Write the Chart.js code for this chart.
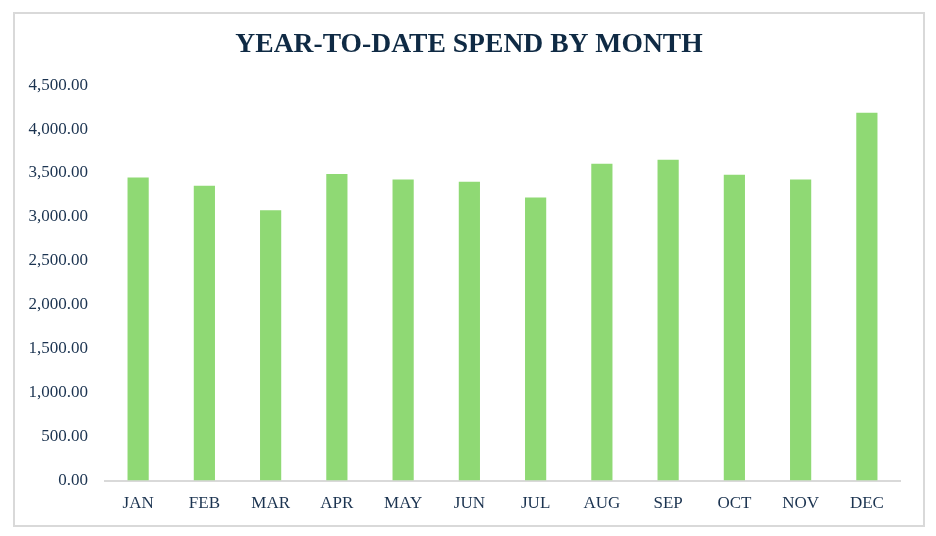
<!DOCTYPE html>
<html lang="en">
<head>
  <meta charset="UTF-8">
  <title>Year-to-date spend by month</title>
  <script src="https://cdn.jsdelivr.net/npm/chart.js"></script>
  <style>
    body { margin: 0; background: #fff; }
    #frame {
      position: absolute; left: 13px; top: 12px;
      width: 908px; height: 511px;
      border: 2px solid #d9d9d9; box-sizing: content-box;
    }
    #frame canvas { display: block; }
  </style>
</head>
<body>
  <div id="frame">
    <canvas id="spendChart" width="908" height="511"></canvas>
  </div>

  <script>
    // data
    const months = ['JAN', 'FEB', 'MAR', 'APR', 'MAY', 'JUN', 'JUL', 'AUG', 'SEP', 'OCT', 'NOV', 'DEC'];
    const spend = [3450, 3355, 3075, 3490, 3425, 3400, 3220, 3605, 3650, 3480, 3425, 4185];
    const yTicks = [0, 500, 1000, 1500, 2000, 2500, 3000, 3500, 4000, 4500];

    const textColor = '#1b3350';
    const serif = '"Liberation Serif", "DejaVu Serif", serif';

    new Chart(document.getElementById('spendChart'), {
      type: 'bar',
      data: {
        labels: months,
        datasets: [{
          data: spend,
          backgroundColor: '#8fd974',
          barPercentage: 0.32,
          categoryPercentage: 1
        }]
      },
      options: {
        responsive: false,
        animation: false,
        layout: { padding: { left: 0, right: 0, top: 0, bottom: 6 } },
        plugins: {
          legend: { display: false },
          tooltip: { enabled: false },
          title: {
            display: true,
            text: 'YEAR-TO-DATE SPEND BY MONTH',
            color: '#0f2a44',
            font: { family: serif, size: 27.6, weight: 'bold' },
            padding: { top: 14, bottom: 24 }
          }
        },
        scales: {
          x: {
            grid: { display: false },
            border: { color: '#d9d9d9', width: 2 },
            ticks: { color: textColor, font: { family: serif, size: 17 }, padding: 5 }
          },
          y: {
            min: 0,
            max: yTicks[yTicks.length - 1],
            afterBuildTicks: (axis) => { axis.ticks = yTicks.map(v => ({ value: v })); },
            afterFit: (axis) => { axis.width = 90; },
            grid: { display: false },
            border: { display: false },
            ticks: {
              color: textColor,
              font: { family: serif, size: 17 },
              padding: 9,
              callback: (v) => Number(v).toLocaleString('en-US', { minimumFractionDigits: 2, maximumFractionDigits: 2 })
            }
          },
          // empty right-hand strip so the plot ends where the reference does
          spacer: {
            position: 'right',
            grid: { display: false },
            border: { display: false },
            ticks: { display: false },
            afterFit: (axis) => { axis.width = 23; }
          }
        }
      }
    });
  </script>
</body>
</html>
